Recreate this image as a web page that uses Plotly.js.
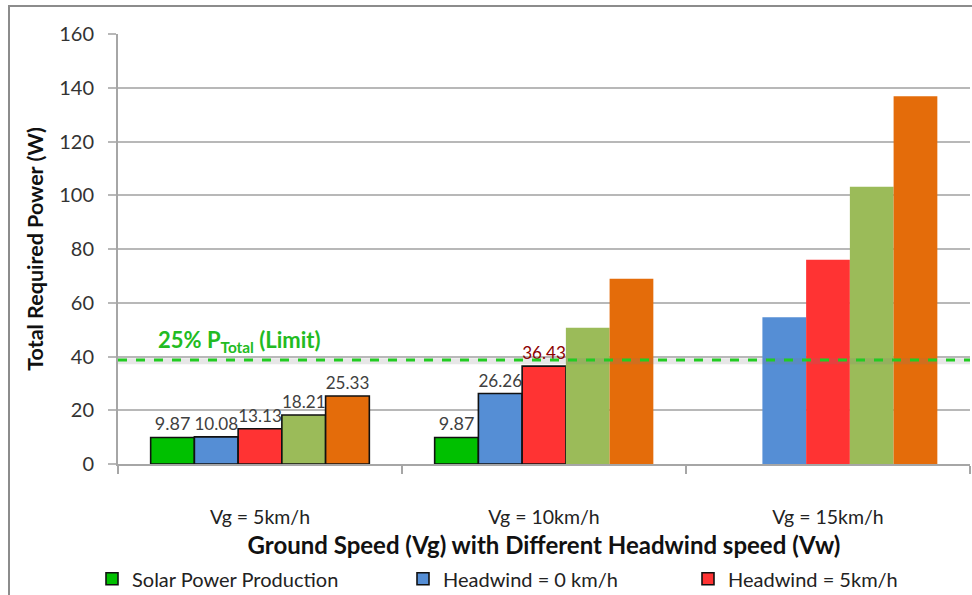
<!DOCTYPE html>
<html>
<head>
<meta charset="utf-8">
<script src="https://cdn.plot.ly/plotly-3.0.1.min.js"></script>
<style>
  html, body { margin: 0; padding: 0; background: #ffffff; overflow: hidden; }
  #frame { position: absolute; left: 8px; top: 5px; width: 1000px; height: 700px;
           border-left: 2px solid #8c8c8c; border-top: 2px solid #8c8c8c; box-sizing: border-box; }
  #chart { position: absolute; left: 0; top: 0; width: 972px; height: 595px; }
</style>
</head>
<body>
<div id="frame"></div>
<div id="chart"></div>
<script>
// ---- data ----
const categories = ["Vg = 5km/h", "Vg = 10km/h", "Vg = 15km/h"];
const seriesNames = ["Solar Power Production", "Headwind = 0 km/h", "Headwind = 5km/h", "Headwind = 10km/h", "Headwind = 15km/h"];
const solarPower   = [9.87, 9.87, null];
const headwind0    = [10.08, 26.26, 54.6];
const headwind5    = [13.13, 36.43, 76.0];
const headwind10   = [18.21, 50.7, 103.2];
const headwind15   = [25.33, 68.9, 136.8];
const solarLabels  = ["9.87", "9.87", null];
const hw0Labels    = ["10.08", "26.26", null];
const hw5Labels    = ["13.13", "36.43", null];
const hw10Labels   = ["18.21", null, null];
const hw15Labels   = ["25.33", null, null];
const limitValue   = 38.7;
const limitLabel   = "25% P<sub>Total</sub> (Limit)";
const xTitle = "Ground Speed (Vg) with Different Headwind speed (Vw)";
const yTitle = "Total Required Power (W)";

// ---- styles ----
const colors = ["#00c000", "#558ed5", "#ff3333", "#9bbb59", "#e46c0a"];
const outlineWidths = [[1.6, 1.6, 0], [1.6, 1.6, 0], [1.6, 1.6, 0], [1.6, 0, 0], [1.6, 0, 0]];
const labelColors = [["#404040","#404040","#404040"], ["#404040","#404040","#404040"], ["#404040","#8b0000","#404040"], ["#404040","#404040","#404040"], ["#404040","#404040","#404040"]];
const legendShown = [true, true, true, false, false];
const legendIds = ["legend", "legend2", "legend3", "legend", "legend"];
const FONT = "Lato, 'Open Sans', sans-serif";

const values = [solarPower, headwind0, headwind5, headwind10, headwind15];
const labels = [solarLabels, hw0Labels, hw5Labels, hw10Labels, hw15Labels];

const traces = values.map((v, i) => ({
  type: "bar",
  name: seriesNames[i],
  x: categories,
  y: v,
  text: labels[i],
  textposition: "outside",
  cliponaxis: false,
  textfont: { family: FONT, size: 18, color: labelColors[i] },
  marker: { color: colors[i], line: { color: "#111111", width: outlineWidths[i] } },
  showlegend: legendShown[i],
  legend: legendIds[i],
  hoverinfo: "skip"
}));

function legendAt(px) {
  return {
    orientation: "h",
    xref: "container", x: px / 972, xanchor: "left",
    yref: "container", y: 0.06, yanchor: "top",
    font: { family: FONT, size: 20, color: "#222222" },
    itemwidth: 30,
    bgcolor: "rgba(0,0,0,0)"
  };
}

const layout = {
  width: 972, height: 595,
  paper_bgcolor: "rgba(0,0,0,0)",
  plot_bgcolor: "rgba(0,0,0,0)",
  margin: { l: 118, r: 2, t: 34, b: 131 },
  barmode: "group",
  bargap: 0.23,
  bargroupgap: 0,
  font: { family: FONT, color: "#333333" },
  xaxis: {
    type: "category",
    showgrid: false,
    showline: true, linecolor: "#a6a6a6", linewidth: 2,
    ticks: "outside", tickson: "boundaries", ticklen: 8, tickcolor: "#a6a6a6", tickwidth: 2,
    ticklabelstandoff: 35,
    tickfont: { family: FONT, size: 19.5, color: "#222222" },
    title: { text: xTitle, font: { family: FONT, size: 24, color: "#111111", weight: "bold" }, standoff: 26 }
  },
  yaxis: {
    range: [0, 160],
    dtick: 20,
    showgrid: true, gridcolor: "#b8b8b8", gridwidth: 2,
    showline: true, linecolor: "#a6a6a6", linewidth: 2,
    zeroline: false,
    ticks: "outside", ticklen: 8, tickcolor: "#b8b8b8", tickwidth: 2,
    ticklabelstandoff: 10,
    tickfont: { family: FONT, size: 20, color: "#333333" },
    title: { text: yTitle, font: { family: FONT, size: 21.5, color: "#111111", weight: "bold" }, standoff: 10 }
  },
  legend: legendAt(92),
  legend2: legendAt(403),
  legend3: legendAt(688),
  shapes: [
    { type: "line", xref: "paper", x0: 0, x1: 1, yref: "y", y0: limitValue - 0.5, y1: limitValue - 0.5,
      line: { color: "rgba(120,120,120,0.18)", width: 6 }, layer: "above" },
    { type: "line", xref: "paper", x0: 0, x1: 1, yref: "y", y0: limitValue, y1: limitValue,
      line: { color: "#22cc22", width: 3, dash: "dash" }, layer: "above" }
  ],
  annotations: [
    { xref: "paper", x: 0.045, xanchor: "left", yref: "y", y: limitValue, yanchor: "bottom", yshift: 2,
      text: "<b>" + limitLabel + "</b>", showarrow: false,
      font: { family: FONT, size: 22, color: "#22bb22" } }
  ]
};

Plotly.newPlot("chart", traces, layout, { displayModeBar: false, staticPlot: true });
</script>
</body>
</html>
